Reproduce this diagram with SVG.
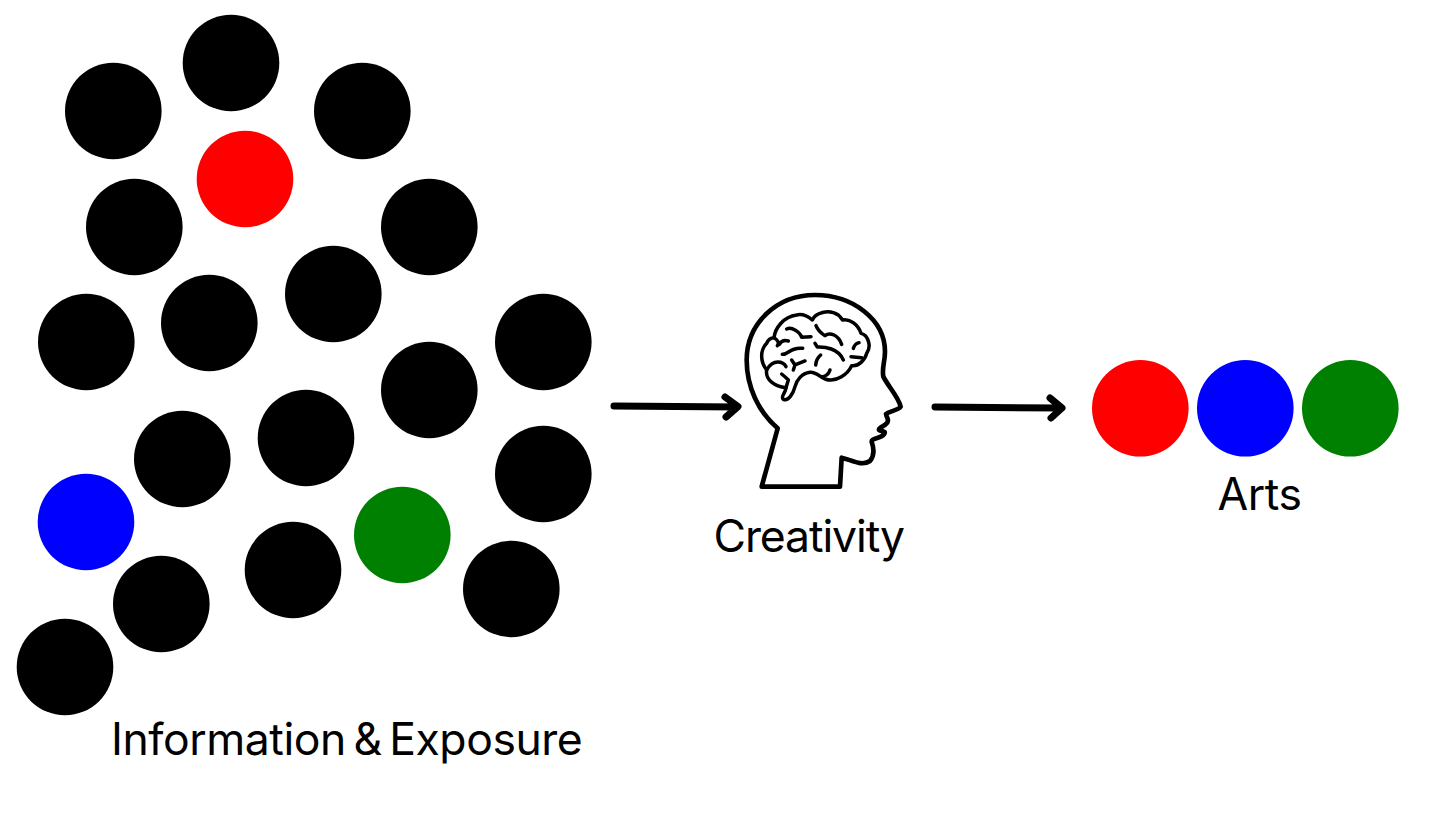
<svg xmlns="http://www.w3.org/2000/svg" width="1456" height="819" viewBox="0 0 1456 819">
<style>
.k{fill:#000}.r{fill:#f00}.b{fill:#00f}.g{fill:#008000}
.l{font-family:"Inter","Liberation Sans",sans-serif;fill:#000;letter-spacing:-.45px;word-spacing:-4.5px;-webkit-text-stroke:.3px #000}
.a{fill:none;stroke:#000;stroke-width:7;stroke-linecap:round;stroke-linejoin:round}
.h{fill:none;stroke:#000;stroke-linecap:round;stroke-linejoin:round}
</style>
<rect width="1456" height="819" fill="#fff"/>
<g id="information-exposure">
<g id="dots">
<circle class="k" cx="113.300" cy="111" r="48.300"/><circle class="k" cx="231" cy="63" r="48.300"/><circle class="k" cx="362.300" cy="111" r="48.300"/>
<circle class="r" cx="245" cy="179" r="48.300"/><circle class="k" cx="134.300" cy="227" r="48.300"/><circle class="k" cx="429.300" cy="227" r="48.300"/>
<circle class="k" cx="333.300" cy="294" r="48.300"/><circle class="k" cx="209.300" cy="323" r="48.300"/><circle class="k" cx="86.300" cy="342" r="48.300"/>
<circle class="k" cx="543.300" cy="342" r="48.300"/><circle class="k" cx="429.300" cy="390" r="48.300"/><circle class="k" cx="306" cy="438" r="48.300"/>
<circle class="k" cx="182.300" cy="459" r="48.300"/><circle class="k" cx="543.300" cy="474" r="48.300"/><circle class="b" cx="86" cy="522" r="48.300"/>
<circle class="g" cx="402.300" cy="535" r="48.300"/><circle class="k" cx="293" cy="570" r="48.300"/><circle class="k" cx="161.300" cy="604" r="48.300"/>
<circle class="k" cx="511.300" cy="589" r="48.300"/><circle class="k" cx="65" cy="667" r="48.300"/>
</g>
<text class="l" x="111" y="755" font-size="44.500">Information &amp; Exposure</text>
</g>
<g id="creativity">
<g transform="translate(730 280) scale(.33333)">
<path class="h" stroke-width="14" d="M95,620 L143,445 C85,395 50,320 50,240 C50,130 140,45 255,45 C370,45 465,120 465,215 C465,245 455,265 460,290 C475,320 505,350 512,380 C505,392 480,392 468,402 C470,415 480,420 470,430 C462,440 445,442 447,450 C455,455 470,452 462,463 C450,478 425,472 425,485 C432,505 435,525 420,543 C395,560 365,540 335,533 L330,620 Z"/>
</g>
<g transform="translate(750 305) scale(.33333)" class="h" stroke-width="10.500">
<path d="M100,283 C90,275 107,265 108,248 C75,245 45,225 50,195 C30,170 30,135 50,115 C55,102 65,98 72,98 C75,70 100,35 140,30 C160,25 175,35 187,45 C195,25 235,10 265,30 C272,36 275,42 278,45 C300,40 325,60 333,85 C355,90 365,125 350,145 C345,165 325,185 305,182 C295,205 260,235 225,222 C210,215 195,200 180,202 C155,205 140,225 135,245 C130,265 115,290 100,283 Z"/>
<path d="M110,72 C125,65 150,80 155,97 L183,95 M198,62 C205,80 215,85 225,92 C240,80 265,90 275,118 M195,115 L202,126 C225,125 265,130 280,165 M72,98 C85,105 88,115 82,122 M88,118 C95,105 105,105 115,108 M97,148 C115,150 120,125 158,130 M125,165 L135,180 L165,168 M135,180 L130,195 M212,150 C200,160 198,170 197,180 M310,130 C315,115 320,115 327,113 M303,155 L335,158 M240,195 C235,210 225,215 215,215 M50,195 C70,160 100,170 108,185 M95,207 C105,215 110,220 115,225 L108,248"/>
</g>
<text class="l" x="713.500" y="552" font-size="44.500" style="letter-spacing:-1.1px">Creativity</text>
</g>
<g id="arts">
<circle class="r" cx="1140.300" cy="408.300" r="48.300"/><circle class="b" cx="1245.300" cy="408.300" r="48.300"/><circle class="g" cx="1350.300" cy="408.300" r="48.300"/>
<text class="l" x="1217.500" y="510" font-size="44.500">Arts</text>
</g>
<g id="connectors">
<path class="a" d="M614,406 L737,407 M725,397 L738,406.500 L726,417"/>
<path class="a" d="M935,407 L1061,408 M1050,398 L1062,408 L1051,418"/>
</g>
</svg>
